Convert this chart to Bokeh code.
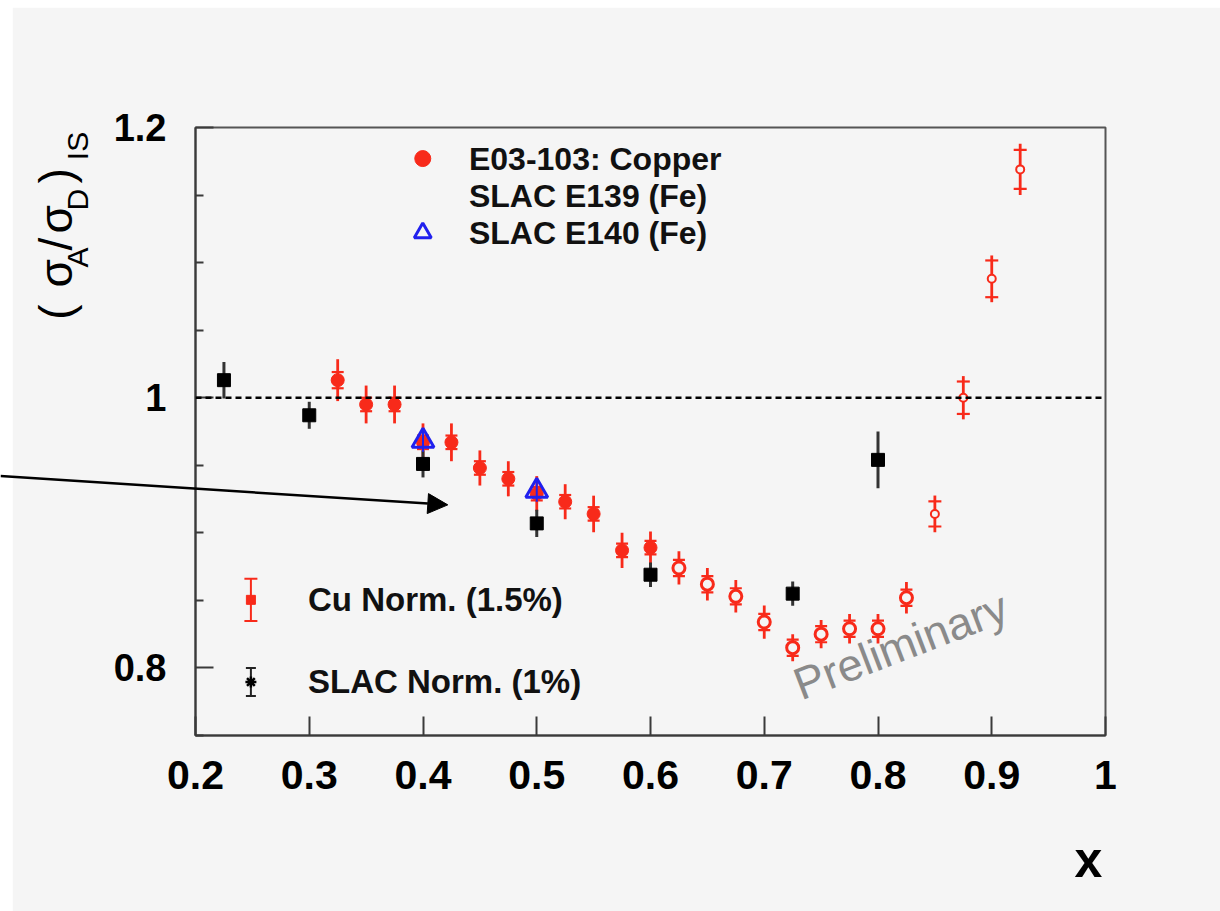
import math
from bokeh.plotting import figure
from bokeh.models import (FixedTicker, Span, Label, Arrow, NormalHead, CustomJSTickFormatter,
                          GridBox, Range1d)
from bokeh.embed import file_html
from bokeh.resources import INLINE

# ---------------- data ----------------
# E03-103 Copper (filled markers)
cu_x_filled = [0.325, 0.35, 0.375, 0.4, 0.425, 0.45, 0.475, 0.5, 0.525, 0.55, 0.575, 0.6]
cu_y_filled = [1.013, 0.995, 0.995, 0.967, 0.967, 0.948, 0.940, 0.929, 0.923, 0.914, 0.887, 0.889]
cu_err_filled = [0.0155, 0.014, 0.014, 0.014, 0.014, 0.013, 0.013, 0.013, 0.013, 0.0135, 0.013, 0.012]
cu_sys_filled = [0.006, 0.005, 0.005, 0.005, 0.005, 0.005, 0.005, 0.005, 0.005, 0.005, 0.005, 0.005]

# E03-103 Copper (open markers, large-x region)
cu_x_open = [0.625, 0.65, 0.675, 0.7, 0.725, 0.75, 0.775, 0.8, 0.825]
cu_y_open = [0.874, 0.862, 0.853, 0.834, 0.815, 0.825, 0.829, 0.829, 0.852]
cu_err_open = [0.0123, 0.012, 0.012, 0.0123, 0.010, 0.0105, 0.011, 0.011, 0.0117]
cu_sys_open = [0.006, 0.006, 0.006, 0.006, 0.006, 0.006, 0.006, 0.006, 0.006]

# E03-103 Copper (small open markers, highest x)
cu_x_high = [0.85, 0.875, 0.9, 0.925]
cu_y_high = [0.914, 1.000, 1.088, 1.169]
cu_err_high = [0.0136, 0.016, 0.0173, 0.019]
cu_sys_high = [0.0093, 0.012, 0.0136, 0.0144]

# SLAC E139 (Fe)
slac139_x = [0.225, 0.3, 0.4, 0.5, 0.6, 0.725, 0.8]
slac139_y = [1.013, 0.987, 0.951, 0.907, 0.869, 0.855, 0.954]
slac139_err = [0.0135, 0.010, 0.010, 0.010, 0.009, 0.009, 0.021]

# SLAC E140 (Fe)
slac140_x = [0.4, 0.5]
slac140_y = [0.968, 0.931]
slac140_err = [0.008, 0.008]

x_ticks = [0.2, 0.3, 0.4, 0.5, 0.6, 0.7, 0.8, 0.9, 1.0]
y_ticks = [0.8, 1.0, 1.2]
y_minor_ticks = [0.75, 0.85, 0.9, 0.95, 1.05, 1.1, 1.15]

FONT = "Liberation Sans"
RED = "#f82a1a"
BLUE = "#2020ee"
BG = "#f5f5f5"
AX = "#3a3a3a"

p = figure(width=1208, height=904, x_range=(0.2, 1.0), y_range=(0.75, 1.2),
           output_backend="svg", toolbar_location=None,
           min_border_left=183, min_border_right=115, min_border_top=120, min_border_bottom=176,
           background_fill_color=BG, border_fill_color=BG)
p.margin = (7, 0, 0, 12)
p.frame_align = False
p.grid.visible = False
p.outline_line_color = "#555555"
p.outline_line_width = 2

fmt = CustomJSTickFormatter(code="return (Math.round(tick*10)/10).toString();")

xa = p.xaxis[0]
xa.ticker = FixedTicker(ticks=x_ticks, minor_ticks=[])
xa.formatter = fmt
xa.major_tick_in = 19
xa.major_tick_out = 0
xa.minor_tick_in = 0
xa.minor_tick_out = 0
xa.axis_line_width = 2
xa.axis_line_color = AX
xa.major_tick_line_width = 2
xa.major_tick_line_color = AX
xa.major_label_text_font = FONT
xa.major_label_text_font_style = "bold"
xa.major_label_text_font_size = "41px"
xa.major_label_text_color = "black"
xa.major_label_standoff = 25

ya = p.yaxis[0]
ya.ticker = FixedTicker(ticks=y_ticks, minor_ticks=y_minor_ticks)
ya.formatter = fmt
ya.major_tick_in = 18
ya.major_tick_out = 0
ya.minor_tick_in = 8
ya.minor_tick_out = 0
ya.axis_line_width = 2
ya.axis_line_color = AX
ya.major_tick_line_width = 2
ya.major_tick_line_color = AX
ya.minor_tick_line_width = 2
ya.minor_tick_line_color = AX
ya.major_label_text_font = FONT
ya.major_label_text_font_style = "bold"
ya.major_label_text_font_size = "38px"
ya.major_label_text_color = "black"
ya.major_label_standoff = 29

# reference line at 1
p.add_layout(Span(location=1.0, dimension="width", line_color="black",
                  line_width=2.5, line_dash="6 4"))

# ---------------- Copper points ----------------
def err_bars(xs, ys, errs, syss, color, cap):
    p.segment(x0=xs, y0=[y - e for y, e in zip(ys, errs)],
              x1=xs, y1=[y + e for y, e in zip(ys, errs)],
              line_color=color, line_width=2.8)
    p.scatter(xs + xs, [y - s for y, s in zip(ys, syss)] + [y + s for y, s in zip(ys, syss)],
              marker="dash", size=cap, line_color=color, line_width=2.2)

err_bars(cu_x_filled, cu_y_filled, cu_err_filled, cu_sys_filled, RED, 12)
p.scatter(cu_x_filled, cu_y_filled, marker="circle", size=13, fill_color=RED, line_color=RED)

err_bars(cu_x_open, cu_y_open, cu_err_open, cu_sys_open, RED, 12)
p.scatter(cu_x_open, cu_y_open, marker="circle", size=12, fill_color=BG, line_color=RED, line_width=3)

err_bars(cu_x_high, cu_y_high, cu_err_high, cu_sys_high, RED, 13)
p.scatter(cu_x_high, cu_y_high, marker="circle", size=8, fill_color=BG, line_color=RED, line_width=2)

# ---------------- SLAC E139 ----------------
p.segment(x0=slac139_x, y0=[y - e for y, e in zip(slac139_y, slac139_err)],
          x1=slac139_x, y1=[y + e for y, e in zip(slac139_y, slac139_err)],
          line_color="#333333", line_width=3)
p.scatter(slac139_x, slac139_y, marker="square", size=13, fill_color="black", line_color="black")

# ---------------- SLAC E140 ----------------
p.segment(x0=slac140_x, y0=[y - e for y, e in zip(slac140_y, slac140_err)],
          x1=slac140_x, y1=[y + e for y, e in zip(slac140_y, slac140_err)],
          line_color=BLUE, line_width=2)
p.scatter(slac140_x, slac140_y, marker="triangle", size=22, fill_alpha=0,
          line_color=BLUE, line_width=3)

# ---------------- top legend ----------------
leg_x_marker = 0.3998
leg_x_text = 0.4404
leg_rows = [1.177, 1.1496, 1.122]
leg_texts = ["E03-103: Copper", "SLAC E139 (Fe)", "SLAC E140 (Fe)"]
p.scatter([leg_x_marker], [leg_rows[0]], marker="circle", size=16, fill_color=RED, line_color=RED)
p.scatter([leg_x_marker], [leg_rows[2]], marker="triangle", size=17, fill_alpha=0,
          line_color=BLUE, line_width=3)
for t, yy in zip(leg_texts, leg_rows):
    p.add_layout(Label(x=leg_x_text, y=yy, text=t, text_font=FONT, text_font_style="bold",
                       text_font_size="32px", text_baseline="middle", text_align="left",
                       text_color="#111111"))

# ---------------- normalisation legend ----------------
nl_x = 0.2487
nl_text_x = 0.2989
nl_y_cu = 0.8504
nl_y_slac = 0.7896
p.segment(x0=[nl_x], y0=[nl_y_cu - 0.0156], x1=[nl_x], y1=[nl_y_cu + 0.0156],
          line_color=RED, line_width=2)
p.scatter([nl_x, nl_x], [nl_y_cu - 0.0156, nl_y_cu + 0.0156], marker="dash", size=13,
          line_color=RED, line_width=2)
p.scatter([nl_x], [nl_y_cu], marker="square", size=9, fill_color=RED, line_color=RED)
p.segment(x0=[nl_x], y0=[nl_y_slac - 0.0104], x1=[nl_x], y1=[nl_y_slac + 0.0104],
          line_color="#222222", line_width=2)
p.scatter([nl_x, nl_x], [nl_y_slac - 0.0104, nl_y_slac + 0.0104], marker="dash", size=10,
          line_color="#222222", line_width=2)
p.scatter([nl_x], [nl_y_slac], marker="asterisk", size=11, line_color="black", line_width=2.5)
for t, yy in [("Cu Norm. (1.5%)", nl_y_cu), ("SLAC Norm. (1%)", nl_y_slac)]:
    p.add_layout(Label(x=nl_text_x, y=yy, text=t, text_font=FONT, text_font_style="bold",
                       text_font_size="33px", text_baseline="middle", text_align="left",
                       text_color="#111111"))

# ---------------- Preliminary ----------------
p.add_layout(Label(x=0.7276, y=0.7867, text="Preliminary", text_font=FONT,
                   text_font_size="45px", text_color="#8a8a8a", angle=21, angle_units="deg",
                   text_align="left", text_baseline="alphabetic"))

# ---------------- overlay for texts outside the frame ----------------
# same data mapping as p, extended to the whole page
ov = figure(width=1220, height=911, x_range=Range1d(0.02857, 1.10110),
            y_range=Range1d(0.61974, 1.29400), output_backend="svg", toolbar_location=None,
            x_axis_location=None, y_axis_location=None, min_border=0,
            background_fill_alpha=0, border_fill_alpha=0)
ov.frame_align = False
ov.outline_line_color = None
ov.grid.visible = False

ov.add_layout(Arrow(end=NormalHead(size=20, fill_color="black", line_color="black"),
                    x_start=0.02857, y_start=0.942, x_end=0.4218, y_end=0.9207,
                    line_color="black", line_width=2.5))

ov.add_layout(Label(x=0.98507, y=0.6575, text="x", text_font=FONT, text_font_style="bold",
                    text_font_size="50px", text_align="center", text_baseline="middle",
                    text_color="black"))

main_x = 0.0778
sub_x = 0.0963
pieces = [("(", 1.0578, "main"), ("σ", 1.0815, "main"), ("A", 1.0963, "sub"),
          ("/", 1.1089, "main"), ("σ", 1.1215, "main"), ("D", 1.1385, "sub"),
          (")", 1.1585, "main"), ("IS", 1.1758, "sub")]
for t, yy, kind in pieces:
    ov.add_layout(Label(x=main_x if kind == "main" else sub_x, y=yy, text=t, text_font=FONT,
                        text_font_size="46px" if kind == "main" else "30px",
                        angle=math.pi / 2, text_align="left", text_baseline="middle",
                        text_color="black"))

page = GridBox(children=[(p, 0, 0), (ov, 0, 0)])

open("out.html", "w").write(file_html(page, INLINE))
